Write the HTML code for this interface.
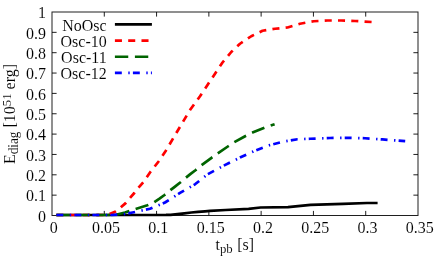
<!DOCTYPE html>
<html><head><meta charset="utf-8"><title>chart</title>
<style>
html,body{margin:0;padding:0;background:#fff;}
svg{display:block}
text{font-family:"Liberation Serif",serif;font-size:16px;fill:#000;stroke:#fff;stroke-width:0.08px}
</style></head><body>
<svg width="436" height="262" viewBox="0 0 436 262">
<defs><filter id="gray" x="0" y="0" width="436" height="262" filterUnits="userSpaceOnUse" color-interpolation-filters="sRGB"><feColorMatrix type="saturate" values="0"/></filter></defs>
<rect width="436" height="262" fill="#fff"/>
<rect x="52.00" y="12.00" width="366.00" height="203.50" fill="none" stroke="#000" stroke-width="1" stroke-opacity="0.88"/>
<path d="M104.29,215.50 v-4.60 M104.29,12.00 v4.60 M156.57,215.50 v-4.60 M156.57,12.00 v4.60 M208.86,215.50 v-4.60 M208.86,12.00 v4.60 M261.14,215.50 v-4.60 M261.14,12.00 v4.60 M313.43,215.50 v-4.60 M313.43,12.00 v4.60 M365.71,215.50 v-4.60 M365.71,12.00 v4.60 M52.00,195.15 h4.60 M418.00,195.15 h-4.60 M52.00,174.80 h4.60 M418.00,174.80 h-4.60 M52.00,154.45 h4.60 M418.00,154.45 h-4.60 M52.00,134.10 h4.60 M418.00,134.10 h-4.60 M52.00,113.75 h4.60 M418.00,113.75 h-4.60 M52.00,93.40 h4.60 M418.00,93.40 h-4.60 M52.00,73.05 h4.60 M418.00,73.05 h-4.60 M52.00,52.70 h4.60 M418.00,52.70 h-4.60 M52.00,32.35 h4.60 M418.00,32.35 h-4.60" stroke="#000" stroke-width="1" stroke-opacity="0.88" fill="none"/>
<path d="M114.9,24.45 H151.9" stroke="#000" stroke-width="2.70" fill="none" />
<path d="M114.9,40.60 H151.9" stroke="#ff0000" stroke-width="2.70" fill="none" stroke-dasharray="7.05 6.24"/>
<path d="M114.9,56.75 H151.9" stroke="#006400" stroke-width="2.70" fill="none" stroke-dasharray="13.35 6.66"/>
<path d="M114.9,72.90 H151.9" stroke="#0000ff" stroke-width="2.70" fill="none" stroke-dasharray="6.9 6.5 1.4 3.2"/>
<path d="M56.40,215.00 L160.00,215.00 L166.00,214.95 L170.60,214.80 L177.50,214.10 L184.40,213.30 L191.30,212.50 L198.10,211.80 L205.00,211.30 L210.00,210.85 L225.70,210.00 L248.60,208.80 L260.60,207.50 L288.00,207.20 L310.50,204.80 L343.00,203.80 L367.00,203.00 L377.60,203.00" stroke="#000" stroke-width="2.70" fill="none" stroke-linejoin="round" />
<path d="M56.40,215.00 L104.00,215.00 L109.60,213.90 L115.10,211.70 L120.60,207.50 L125.40,203.40 L129.50,198.40 L134.30,193.00 L138.50,187.60 L143.30,182.20 L150.00,172.50 L158.75,161.25 L165.50,151.25 L190.00,110.00 L200.00,96.25 L207.50,85.00 L215.00,73.75 L222.50,62.50 L231.25,52.00 L240.00,43.75 L251.25,36.25 L262.50,30.75 L275.00,28.75 L287.50,27.50 L300.00,23.75 L313.75,21.25 L327.50,20.50 L341.25,20.50 L355.00,21.00 L372.00,22.00" stroke="#ff0000" stroke-width="2.70" fill="none" stroke-linejoin="round" stroke-dasharray="7.05 6.24"/>
<path d="M56.40,215.00 L108.00,215.00 L118.00,214.30 L125.00,212.50 L135.00,209.20 L147.40,205.30 L153.80,202.40 L159.15,198.80 L164.50,195.00 L169.50,190.90 L175.00,186.60 L180.50,182.30 L185.40,178.10 L190.60,173.90 L195.80,170.00 L201.10,165.50 L211.50,157.80 L217.10,153.80 L227.80,146.50 L233.50,142.60 L245.10,136.20 L252.50,132.60 L265.00,127.40 L274.60,124.20" stroke="#006400" stroke-width="2.70" fill="none" stroke-linejoin="round" stroke-dasharray="13.35 6.66"/>
<path d="M56.40,215.00 L112.00,215.00 L125.00,214.00 L132.50,212.50 L150.00,208.75 L165.00,202.50 L180.00,192.90 L195.00,184.30 L207.50,174.30 L223.70,165.70 L240.00,157.60 L255.00,150.70 L270.00,145.00 L285.00,141.25 L297.50,139.25 L310.00,138.75 L330.00,138.00 L347.50,137.75 L365.00,138.25 L382.50,139.40 L397.50,140.60 L405.20,141.20" stroke="#0000ff" stroke-width="2.70" fill="none" stroke-linejoin="round" stroke-dasharray="6.9 6.5 1.4 3.2"/>
<g filter="url(#gray)">
<text transform="translate(46,221.80) scale(1,1.05)" text-anchor="end">0</text>
<text transform="translate(46,201.45) scale(1,1.05)" text-anchor="end">0.1</text>
<text transform="translate(46,181.10) scale(1,1.05)" text-anchor="end">0.2</text>
<text transform="translate(46,160.75) scale(1,1.05)" text-anchor="end">0.3</text>
<text transform="translate(46,140.40) scale(1,1.05)" text-anchor="end">0.4</text>
<text transform="translate(46,120.05) scale(1,1.05)" text-anchor="end">0.5</text>
<text transform="translate(46,99.70) scale(1,1.05)" text-anchor="end">0.6</text>
<text transform="translate(46,79.35) scale(1,1.05)" text-anchor="end">0.7</text>
<text transform="translate(46,59.00) scale(1,1.05)" text-anchor="end">0.8</text>
<text transform="translate(46,38.65) scale(1,1.05)" text-anchor="end">0.9</text>
<text transform="translate(46,18.30) scale(1,1.05)" text-anchor="end">1</text>
<text transform="translate(53.80,232.7) scale(1,1.05)" text-anchor="middle">0</text>
<text transform="translate(106.09,232.7) scale(1,1.05)" text-anchor="middle">0.05</text>
<text transform="translate(158.37,232.7) scale(1,1.05)" text-anchor="middle">0.1</text>
<text transform="translate(210.66,232.7) scale(1,1.05)" text-anchor="middle">0.15</text>
<text transform="translate(262.94,232.7) scale(1,1.05)" text-anchor="middle">0.2</text>
<text transform="translate(315.23,232.7) scale(1,1.05)" text-anchor="middle">0.25</text>
<text transform="translate(367.51,232.7) scale(1,1.05)" text-anchor="middle">0.3</text>
<text transform="translate(419.80,232.7) scale(1,1.05)" text-anchor="middle">0.35</text>
<text transform="translate(215.5,249.9) scale(1,1.05)">t<tspan font-size="12.8" dy="2.7">pb</tspan><tspan dy="-2.7" dx="0.5"> [s]</tspan></text>
<text transform="translate(15.1,164) rotate(-90) scale(1,1.05)">E<tspan font-size="13.2" dy="2.8">diag</tspan><tspan dy="-2.8"> [10</tspan><tspan font-size="12.8" dy="-4.0">51</tspan><tspan dy="4.0"> erg]</tspan></text>
<text transform="translate(106.7,30.65) scale(1,1.05)" text-anchor="end">NoOsc</text>
<text transform="translate(106.7,46.80) scale(1,1.05)" text-anchor="end">Osc-10</text>
<text transform="translate(106.7,62.95) scale(1,1.05)" text-anchor="end">Osc-11</text>
<text transform="translate(106.7,79.10) scale(1,1.05)" text-anchor="end">Osc-12</text>
</g>
</svg>
</body></html>
